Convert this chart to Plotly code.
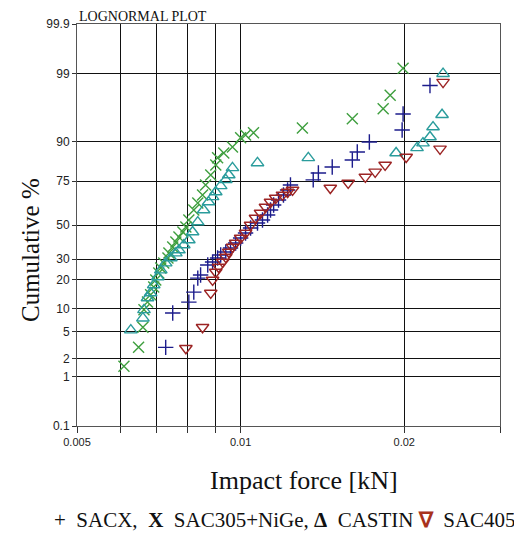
import math
import plotly.graph_objects as go
from statistics import NormalDist

# ---- data (impact force in kN, cumulative %) ----
sacx_force = [0.00728, 0.00750, 0.00803, 0.00820, 0.00834, 0.00844, 0.00870, 0.00888, 0.00907,
              0.00919, 0.00939, 0.00958, 0.00979, 0.01000, 0.01021, 0.01043, 0.01074, 0.01097,
              0.01121, 0.01135, 0.01150, 0.01174, 0.01199, 0.01220, 0.01235, 0.01360, 0.01390,
              0.01474, 0.01605, 0.01639, 0.01725, 0.01982, 0.01990, 0.02230]
sacx_cum = [3.0, 8.8, 11.8, 15.1, 20.7, 22.1, 26.9, 28.5, 30.6, 32.2, 33.9, 36.2, 39.1, 42.1,
            45.1, 48.2, 51.2, 53.1, 56.1, 59.1, 62.1, 65.0, 67.8, 70.5, 73.1, 75.6, 78.8, 81.4,
            84.1, 86.9, 89.9, 92.8, 95.6, 98.4]

nige_force = [0.00610, 0.00649, 0.00661, 0.00664, 0.00674, 0.00683, 0.00692, 0.00698, 0.00707,
              0.00713, 0.00722, 0.00735, 0.00738, 0.00750, 0.00760, 0.00770, 0.00783, 0.00793,
              0.00803, 0.00820, 0.00834, 0.00851, 0.00862, 0.00881, 0.00900, 0.00907, 0.00931,
              0.00966, 0.01000, 0.01021, 0.01056, 0.01299, 0.01605, 0.01829, 0.01884, 0.01990]
nige_cum = [1.5, 3.0, 5.8, 9.6, 11.8, 14.2, 17.0, 19.9, 23.0, 25.4, 27.9, 30.6, 33.3, 36.8,
            39.7, 42.7, 45.7, 48.8, 53.1, 59.1, 63.2, 67.8, 73.1, 77.9, 82.2, 84.9, 86.6, 88.5,
            91.0, 91.7, 92.2, 93.2, 94.9, 96.3, 97.7, 99.2]

castin_force = [0.00628, 0.00661, 0.00664, 0.00674, 0.00683, 0.00692, 0.00704, 0.00713, 0.00728,
                0.00744, 0.00760, 0.00770, 0.00786, 0.00803, 0.00816, 0.00834, 0.00855, 0.00873,
                0.00888, 0.00900, 0.00919, 0.00939, 0.00951, 0.00966, 0.01074, 0.01332, 0.01932,
                0.02111, 0.02165, 0.02230, 0.02259, 0.02347, 0.02357]
castin_cum = [5.3, 7.6, 9.6, 13.1, 14.8, 17.8, 21.2, 24.4, 27.9, 30.6, 33.3, 35.0, 37.9, 40.9,
              45.7, 51.8, 59.1, 63.8, 66.7, 69.4, 72.6, 75.6, 77.9, 81.0, 83.0, 84.9, 86.6, 88.2,
              89.6, 91.2, 93.4, 95.5, 99.0]

sac405_force = [0.00793, 0.00851, 0.00881, 0.00888, 0.00900, 0.00911, 0.00927, 0.00939, 0.00951,
                0.00966, 0.00979, 0.01000, 0.01021, 0.01043, 0.01065, 0.01088, 0.01111, 0.01135,
                0.01160, 0.01194, 0.01220, 0.01246, 0.01462, 0.01577, 0.01696, 0.01768, 0.01844,
                0.02016, 0.02327, 0.02357]
sac405_cum = [2.9, 5.8, 14.8, 19.9, 23.5, 25.9, 28.5, 31.1, 33.9, 36.8, 39.1, 42.1, 45.1, 50.0,
              54.3, 57.3, 60.9, 63.8, 66.1, 67.8, 69.4, 70.5, 71.5, 74.1, 77.0, 79.3, 82.2, 85.2,
              87.9, 98.6]

y_ticks = [0.1, 1, 2, 5, 10, 20, 30, 50, 75, 90, 99, 99.9]
y_tick_labels = ["0.1", "1", "2", "5", "10", "20", "30", "50", "75", "90", "99", "99.9"]
x_ticks = [0.005, 0.006, 0.007, 0.008, 0.009, 0.01, 0.02, 0.03]
x_tick_labels = ["0.005", "", "", "", "", "0.01", "0.02", ""]

nd = NormalDist()


def probit(vals):
    return [nd.inv_cdf(v / 100.0) for v in vals]


fig = go.Figure()

series = [
    (sacx_force, sacx_cum, "SACX", "cross-thin-open", "#1c1c8c", 11),
    (nige_force, nige_cum, "SAC305+NiGe", "x-thin-open", "#3f9f3f", 11),
    (castin_force, castin_cum, "CASTIN", "triangle-up-open", "#2a9c9c", 11),
    (sac405_force, sac405_cum, "SAC405", "triangle-down-open", "#9c2424", 11),
]
for fx, cy, name, sym, col, sz in series:
    fig.add_trace(go.Scatter(
        x=fx, y=probit(cy), mode="markers", name=name,
        marker=dict(symbol=sym, size=sz, color=col, line=dict(color=col, width=1.4)),
    ))

ymax = nd.inv_cdf(0.999)

fig.update_layout(
    width=522, height=540,
    margin=dict(l=69, r=30, t=16, b=122),
    paper_bgcolor="white", plot_bgcolor="white",
    showlegend=False,
    font=dict(family="Liberation Sans, Arial, sans-serif", size=11, color="#222"),
)
fig.update_xaxes(
    type="log", range=[math.log10(0.005), math.log10(0.03)],
    tickvals=x_ticks, ticktext=x_tick_labels,
    showgrid=True, gridcolor="#111", gridwidth=1,
    showline=True, linecolor="#555", linewidth=1, mirror=True,
    ticks="outside", ticklen=6, tickcolor="#333",
    tickfont=dict(family="Liberation Sans, Arial, sans-serif", size=11, color="#222"),
    zeroline=False, automargin=False,
)
fig.update_yaxes(
    range=[-ymax, ymax],
    tickvals=probit(y_ticks), ticktext=y_tick_labels,
    showgrid=True, gridcolor="#111", gridwidth=1,
    showline=True, linecolor="#555", linewidth=1, mirror=True,
    ticks="outside", ticklen=4, tickcolor="#333",
    tickfont=dict(family="Liberation Sans, Arial, sans-serif", size=12, color="#222"),
    zeroline=False, automargin=False,
)

serif = "Liberation Serif, Times New Roman, serif"
fig.add_annotation(text="LOGNORMAL PLOT", xref="paper", yref="paper", x=0.0, y=1.0,
                   xanchor="left", yanchor="bottom", showarrow=False, yshift=-2,
                   font=dict(family=serif, size=14, color="#111"))
fig.add_annotation(text="Cumulative %", xref="paper", yref="paper", x=(30 - 77) / 423,
                   y=(426 - 250) / 402, textangle=-90, showarrow=False,
                   xanchor="center", yanchor="middle",
                   font=dict(family=serif, size=25, color="#111"))
fig.add_annotation(text="Impact force [kN]", xref="paper", yref="paper", x=(304 - 77) / 423,
                   y=(426 - 480) / 402, showarrow=False, xanchor="center", yanchor="middle",
                   font=dict(family=serif, size=26, color="#111"))
fig.add_annotation(
    text="+  SACX,  <b>X</b>  SAC305+NiGe, <b>Δ</b>  CASTIN <b><span style='color:#a8321c'>∇</span></b>  SAC405",
    xref="paper", yref="paper", x=(285 - 77) / 423, y=(426 - 520) / 402,
    showarrow=False, xanchor="center", yanchor="middle",
    font=dict(family=serif, size=21, color="#111"))

fig.write_html("out.html")
